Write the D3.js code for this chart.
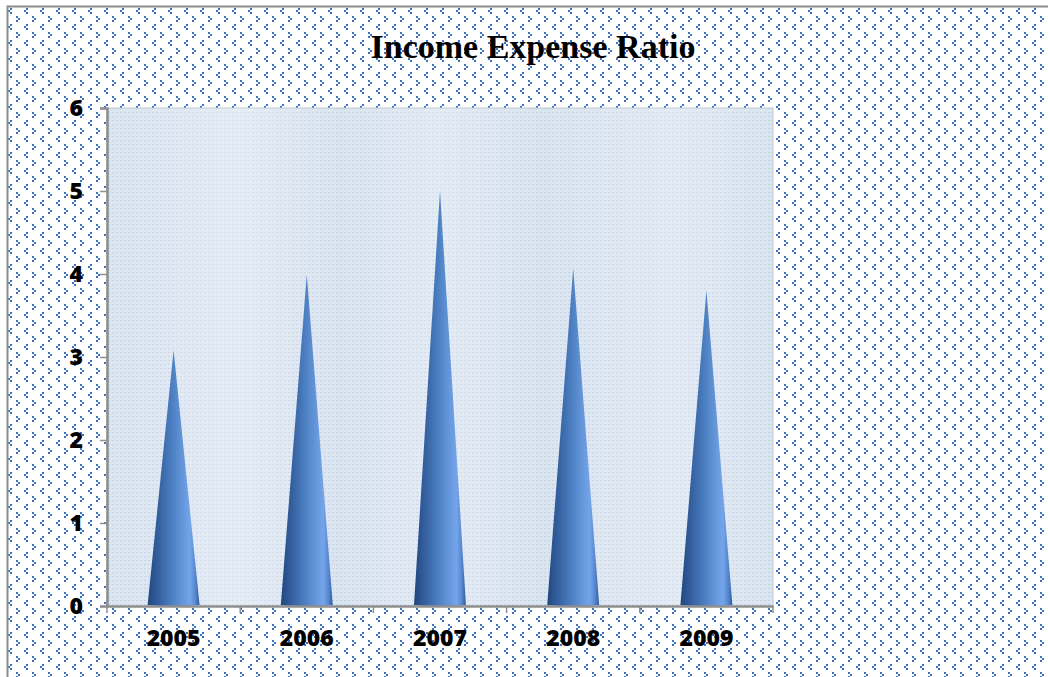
<!DOCTYPE html>
<html>
<head>
<meta charset="utf-8">
<script src="https://cdn.jsdelivr.net/npm/d3@7"></script>
<style>
  html, body { margin: 0; padding: 0; background: #ffffff; }
  svg { display: block; }
</style>
</head>
<body>
<script>
// Income / expense ratio per year
const years = ["2005", "2006", "2007", "2008", "2009"];
const ratios = [3.08, 3.99, 5.0, 4.07, 3.8];
const yTicks = [0, 1, 2, 3, 4, 5, 6];
const titleText = "Income Expense Ratio";

const W = 1048, H = 677;
const plot = { left: 107, top: 108, right: 773, bottom: 606 };

const svg = d3.select("body").append("svg")
  .attr("width", W).attr("height", H);

const defs = svg.append("defs");

// Chart-area fill: small blue chevrons on white
const dots = defs.append("pattern")
  .attr("id", "chevrons")
  .attr("patternUnits", "userSpaceOnUse")
  .attr("x", 7).attr("y", 7)
  .attr("width", 16).attr("height", 16);
dots.append("rect").attr("width", 16).attr("height", 16).attr("fill", "#ffffff");
const s = 2, dotCol = "#3f71c2";
// "<" mark
[[2, 0], [0, 2], [2, 4]].forEach(([dx, dy]) =>
  dots.append("rect").attr("x", 1 + dx).attr("y", 1 + dy).attr("width", s).attr("height", s).attr("fill", dotCol));
// ">" mark, offset half a tile
[[0, 0], [2, 2], [0, 4]].forEach(([dx, dy]) =>
  dots.append("rect").attr("x", 9 + dx).attr("y", 9 + dy).attr("width", s).attr("height", s).attr("fill", dotCol));

// Plot-area fill: pale blue with fine horizontal grain
const grain = defs.append("pattern")
  .attr("id", "grain")
  .attr("patternUnits", "userSpaceOnUse")
  .attr("width", 4).attr("height", 4);
grain.append("rect").attr("width", 4).attr("height", 4).attr("fill", "#dae5f2");
grain.append("rect").attr("x", 0).attr("y", 0).attr("width", 2).attr("height", 1).attr("fill", "#c6d1de");

const wallShade = defs.append("linearGradient")
  .attr("id", "wallShade").attr("x1", "0").attr("x2", "1").attr("y1", "0").attr("y2", "0");
[["0%", 0.0], ["20%", 0.3], ["35%", 0.0], ["50%", 0.25], ["65%", 0.0], ["85%", 0.25], ["100%", 0.0]]
  .forEach(([o, a]) => wallShade.append("stop").attr("offset", o).attr("stop-color", "#ffffff").attr("stop-opacity", a));

// Cone shading across its width
const coneGrad = defs.append("linearGradient")
  .attr("id", "coneGrad").attr("x1", "0").attr("x2", "1").attr("y1", "0").attr("y2", "0");
[["0%", "#21467c"], ["18%", "#325c9b"], ["45%", "#4a7dc0"], ["70%", "#6899de"],
 ["82%", "#74a5ea"], ["92%", "#5687cf"], ["100%", "#2d5c9b"]]
  .forEach(([o, c]) => coneGrad.append("stop").attr("offset", o).attr("stop-color", c));

// Background of the chart area and its frame
svg.append("rect").attr("x", 7).attr("y", 6).attr("width", W).attr("height", H)
  .attr("fill", "url(#chevrons)");
svg.append("path")
  .attr("d", `M7.5,${H} V6.5 H${W}`)
  .attr("fill", "none").attr("stroke", "#8c8c8c").attr("stroke-width", 2);

// Title
svg.append("text")
  .attr("x", 533).attr("y", 58)
  .attr("text-anchor", "middle")
  .attr("font-family", "'Liberation Serif', 'Times New Roman', serif")
  .attr("font-weight", "bold")
  .attr("font-size", 34)
  .attr("fill", "#000")
  .text(titleText);

// Scales
const x = d3.scaleBand().domain(years).range([plot.left, plot.right]).padding(0);
const y = d3.scaleLinear().domain([0, 6]).range([plot.bottom, plot.top]);

// Plot area
svg.append("rect")
  .attr("x", plot.left).attr("y", plot.top)
  .attr("width", plot.right - plot.left).attr("height", plot.bottom - plot.top)
  .attr("fill", "url(#grain)")
  .attr("stroke", "#c4c8cc").attr("stroke-width", 1);
svg.append("rect")
  .attr("x", plot.left).attr("y", plot.top)
  .attr("width", plot.right - plot.left).attr("height", plot.bottom - plot.top)
  .attr("fill", "url(#wallShade)");

// Cones
const coneW = x.bandwidth() * 0.39;
svg.append("g").selectAll("path")
  .data(years.map((yr, i) => ({ yr, v: ratios[i] })))
  .join("path")
  .attr("d", d => {
    const cx = x(d.yr) + x.bandwidth() / 2;
    const l = cx - coneW / 2, r = cx + coneW / 2, b = y(0) - 1;
    return `M${l},${b} L${cx},${y(d.v)} L${r},${b} Q${cx},${b + 3} ${l},${b} Z`;
  })
  .attr("fill", "url(#coneGrad)");

// Axes
const axisFont = "'Open Sans', 'Liberation Sans', sans-serif";

const yAxis = svg.append("g")
  .attr("transform", `translate(${plot.left},0)`)
  .call(d3.axisLeft(y).tickValues(yTicks).tickFormat(d3.format("d")).tickSize(7).tickPadding(17));
yAxis.select(".domain").attr("stroke", "#8f8f8f").attr("stroke-width", 2.5);
yAxis.selectAll(".tick line").attr("stroke", "#8f8f8f").attr("stroke-width", 1.5);
yAxis.selectAll(".tick text")
  .attr("font-family", axisFont).attr("font-weight", 800)
  .attr("font-size", 23).attr("fill", "#000");

const xAxis = svg.append("g")
  .attr("transform", `translate(0,${plot.bottom})`)
  .call(d3.axisBottom(x).tickSize(0).tickPadding(24));
xAxis.select(".domain").attr("stroke", "#8f8f8f").attr("stroke-width", 2.5);
xAxis.selectAll(".tick text")
  .attr("font-family", axisFont).attr("font-weight", 800)
  .attr("font-size", 23).attr("fill", "#000");

// Category boundary ticks
const bounds = years.map(yr => x(yr)).concat([plot.right]);
xAxis.append("g").selectAll("line")
  .data(bounds)
  .join("line")
  .attr("x1", d => d).attr("x2", d => d)
  .attr("y1", 0).attr("y2", 7)
  .attr("stroke", "#8f8f8f").attr("stroke-width", 1.5);
</script>
</body>
</html>
